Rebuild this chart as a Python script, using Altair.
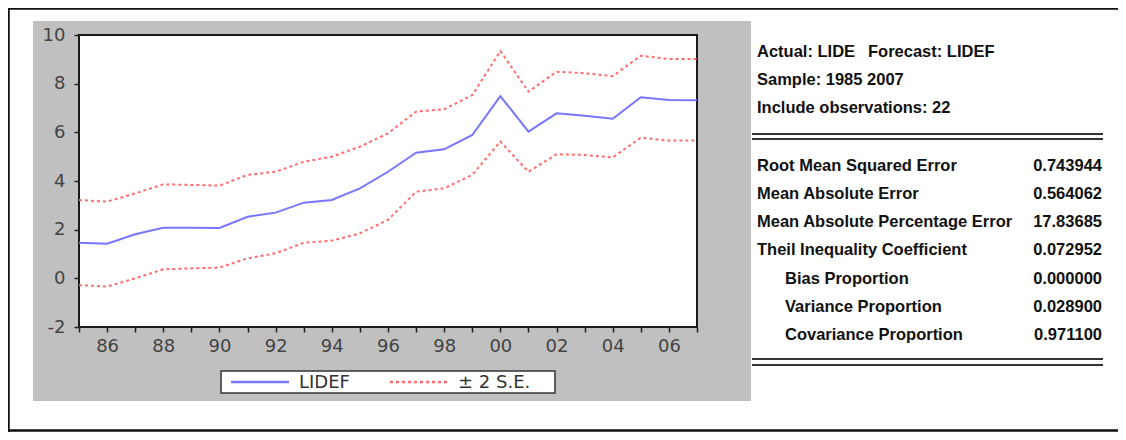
import altair as alt
import pandas as pd

# ---------------- data ----------------
years = list(range(1985, 2008))
lidef = [1.46, 1.42, 1.81, 2.08, 2.08, 2.07, 2.53, 2.70, 3.11, 3.22, 3.70, 4.38,
         5.16, 5.30, 5.89, 7.49, 6.03, 6.78, 6.68, 6.56, 7.44, 7.33, 7.32]
upper = [3.22, 3.15, 3.49, 3.86, 3.84, 3.81, 4.25, 4.38, 4.79, 5.00, 5.41, 5.96,
         6.85, 6.95, 7.53, 9.34, 7.67, 8.49, 8.43, 8.31, 9.15, 9.01, 9.01]
lower = [-0.28, -0.34, 0.00, 0.37, 0.41, 0.44, 0.82, 1.03, 1.46, 1.55, 1.85, 2.40,
         3.56, 3.70, 4.25, 5.62, 4.38, 5.10, 5.07, 4.97, 5.78, 5.66, 5.66]
series_names = ["LIDEF", "± 2 S.E."]
y_ticks = [-2, 0, 2, 4, 6, 8, 10]

header_left = ["Actual: LIDE", "Sample: 1985 2007", "Include observations: 22"]
header_right = ["Forecast: LIDEF"]
stat_names = ["Root Mean Squared Error", "Mean Absolute Error",
              "Mean Absolute Percentage Error", "Theil Inequality Coefficient"]
sub_names = ["Bias Proportion", "Variance Proportion", "Covariance Proportion"]
stat_values = ["0.743944", "0.564062", "17.83685", "0.072952"]
sub_values = ["0.000000", "0.028900", "0.971100"]

# ---------------- layout ----------------
W, H = 1110, 424
PX0, PX1, PY0, PY1 = 71, 689, 27, 319
BLUE = "#7676ff"
RED = "#ff6e6e"
AXIS_FONT = "DejaVu Sans"
TXT_FONT = "Liberation Sans"
TXT_SIZE = 16.5

one = pd.DataFrame({"k": [0]})

def box(x, x2, y, y2, fill, stroke=None, sw=0):
    kw = dict(fill=fill)
    if stroke:
        kw.update(stroke=stroke, strokeWidth=sw)
    return alt.Chart(one).mark_rect(**kw).encode(
        x=alt.value(x), x2=alt.value(x2), y=alt.value(y), y2=alt.value(y2))

def hrule(x, x2, y, color="#333333", sw=2, dash=None):
    kw = dict(color=color, strokeWidth=sw)
    if dash:
        kw["strokeDash"] = dash
    return alt.Chart(one).mark_rule(**kw).encode(
        x=alt.value(x), x2=alt.value(x2), y=alt.value(y))

def vrule(x, y, y2, color="#111111", sw=2.5):
    return alt.Chart(one).mark_rule(color=color, strokeWidth=sw).encode(
        x=alt.value(x), y=alt.value(y), y2=alt.value(y2))

def label(txt, x, y, align="left", font=TXT_FONT, size=TXT_SIZE, weight="bold", color="#111111"):
    d = pd.DataFrame({"t": [txt]})
    return alt.Chart(d).mark_text(align=align, baseline="middle", font=font,
                                  fontSize=size, fontWeight=weight, color=color).encode(
        x=alt.value(x), y=alt.value(y), text="t:N")

layers = []
# outer frame (top, left, bottom) - open on the right like the reference
layers.append(hrule(0, W + 20, 0.5, color="#111111", sw=2.5))
layers.append(hrule(0, W + 20, H - 1.5, color="#111111", sw=2.5))
layers.append(vrule(0.5, 0, H))
# gray panel
layers.append(box(25, 743, 13, 393, fill="#c0c0c0"))
# plot area
layers.append(box(PX0, PX1, PY0, PY1, fill="white", stroke="#1a1a1a", sw=2))

xscale = alt.Scale(domain=[1985, 2007], range=[PX0, PX1], nice=False, zero=False)
yscale = alt.Scale(domain=[-2, 10], range=[PY1, PY0], nice=False, zero=False)

xaxis = alt.Axis(values=years, labelExpr="datum.value % 2 == 0 ? substring(toString(datum.value), 2, 4) : ''",
                 offset=-(H - PY1), domain=False, tickColor="#222222", tickSize=5, tickWidth=1.5,
                 labelFont=AXIS_FONT, labelFontSize=18, labelColor="#444444", labelPadding=5,
                 labelOverlap=False, labelFlush=False, grid=False, title=None, zindex=1)
yaxis = alt.Axis(values=y_ticks, labelExpr="'' + datum.value", offset=-PX0, domain=False,
                 tickColor="#222222", tickSize=5, tickWidth=1.5, labelFont=AXIS_FONT,
                 labelFontSize=18, labelColor="#444444", labelPadding=9, labelOverlap=False,
                 labelFlush=False, grid=False, title=None, zindex=1)

df_f = pd.DataFrame({"year": years, "value": lidef})
df_b = pd.DataFrame({"year": years + years, "value": upper + lower,
                     "band": ["upper"] * len(years) + ["lower"] * len(years)})

layers.append(alt.Chart(df_b).mark_line(color=RED, strokeWidth=2, strokeDash=[3, 3]).encode(
    x=alt.X("year:Q", scale=xscale, axis=xaxis),
    y=alt.Y("value:Q", scale=yscale, axis=yaxis),
    detail="band:N"))
layers.append(alt.Chart(df_f).mark_line(color=BLUE, strokeWidth=2).encode(
    x=alt.X("year:Q", scale=xscale, axis=xaxis),
    y=alt.Y("value:Q", scale=yscale, axis=yaxis)))

# legend
layers.append(box(213, 547, 363, 385, fill="white", stroke="#333333", sw=1.5))
layers.append(hrule(223, 281, 374, color=BLUE, sw=2.5))
layers.append(label(series_names[0], 291, 375, font=AXIS_FONT, size=18, weight="normal", color="#333333"))
layers.append(hrule(382, 440, 374, color=RED, sw=2.5, dash=[3, 3]))
layers.append(label(series_names[1], 450, 375, font=AXIS_FONT, size=18, weight="normal", color="#333333"))

# right-hand statistics
layers.append(label(header_left[0], 749, 44))
layers.append(label(header_right[0], 860, 44))
layers.append(label(header_left[1], 749, 72))
layers.append(label(header_left[2], 749, 100))
layers.append(hrule(744, 1095, 126))
layers.append(hrule(744, 1095, 131))
row_y = [158, 186, 214, 242]
for n, v, yy in zip(stat_names, stat_values, row_y):
    layers.append(label(n, 749, yy))
    layers.append(label(v, 1094, yy, align="right"))
sub_y = [271, 299, 327]
for n, v, yy in zip(sub_names, sub_values, sub_y):
    layers.append(label(n, 777, yy))
    layers.append(label(v, 1094, yy, align="right"))
layers.append(hrule(744, 1095, 351))
layers.append(hrule(744, 1095, 357))

chart = alt.layer(*layers).properties(
    width=W, height=H, autosize=alt.AutoSizeParams(type="none"), padding=0
).configure_view(stroke="transparent", strokeWidth=0)

chart.save("out.html", embed_options={"renderer": "svg", "actions": False})
